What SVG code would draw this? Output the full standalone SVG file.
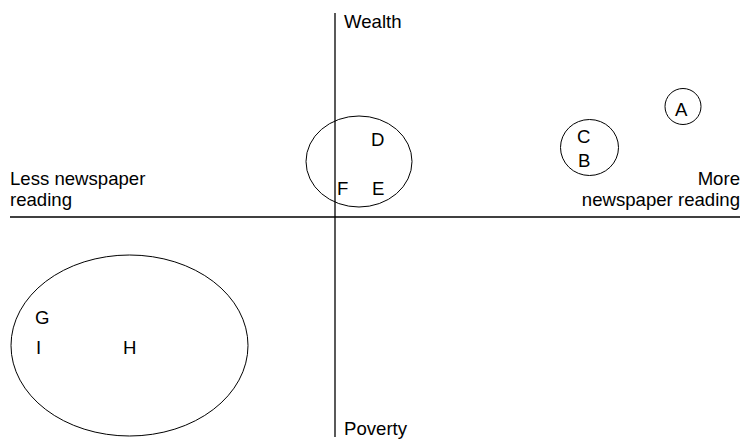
<svg xmlns="http://www.w3.org/2000/svg" width="751" height="440" viewBox="0 0 751 440">
<style>
text{font-family:"Liberation Sans",Arial,sans-serif;font-size:18.6px;fill:#000}
.shape{fill:none;stroke:#000;stroke-width:1}
.axis{stroke:#000;stroke-width:1.3}
</style>
<rect width="751" height="440" fill="#fff"/>
<g id="connectors">
<line class="axis" x1="335" y1="13" x2="335" y2="437"/>
<line class="axis" x1="10" y1="217" x2="740" y2="217"/>
</g>
<g id="axis-labels">
<text x="344" y="28">Wealth</text>
<text x="344" y="435">Poverty</text>
<text x="10" y="185">Less newspaper</text>
<text x="10" y="206">reading</text>
<text x="740" y="185" text-anchor="end">More</text>
<text x="740" y="206" text-anchor="end">newspaper reading</text>
</g>
<g id="group-DEF">
<ellipse class="shape" cx="359" cy="161.5" rx="53" ry="45.5"/>
<text x="371" y="146">D</text>
<text x="337" y="195">F</text>
<text x="372" y="195">E</text>
</g>
<g id="group-CB">
<ellipse class="shape" cx="589.5" cy="147.5" rx="29" ry="28"/>
<text x="577" y="143">C</text>
<text x="578" y="167">B</text>
</g>
<g id="group-A">
<circle class="shape" cx="683" cy="106.5" r="18"/>
<text x="675" y="116">A</text>
</g>
<g id="group-GHI">
<ellipse class="shape" cx="129.5" cy="345.5" rx="118.5" ry="90.5"/>
<text x="35" y="324">G</text>
<text x="36" y="354">I</text>
<text x="123" y="354">H</text>
</g>
</svg>
